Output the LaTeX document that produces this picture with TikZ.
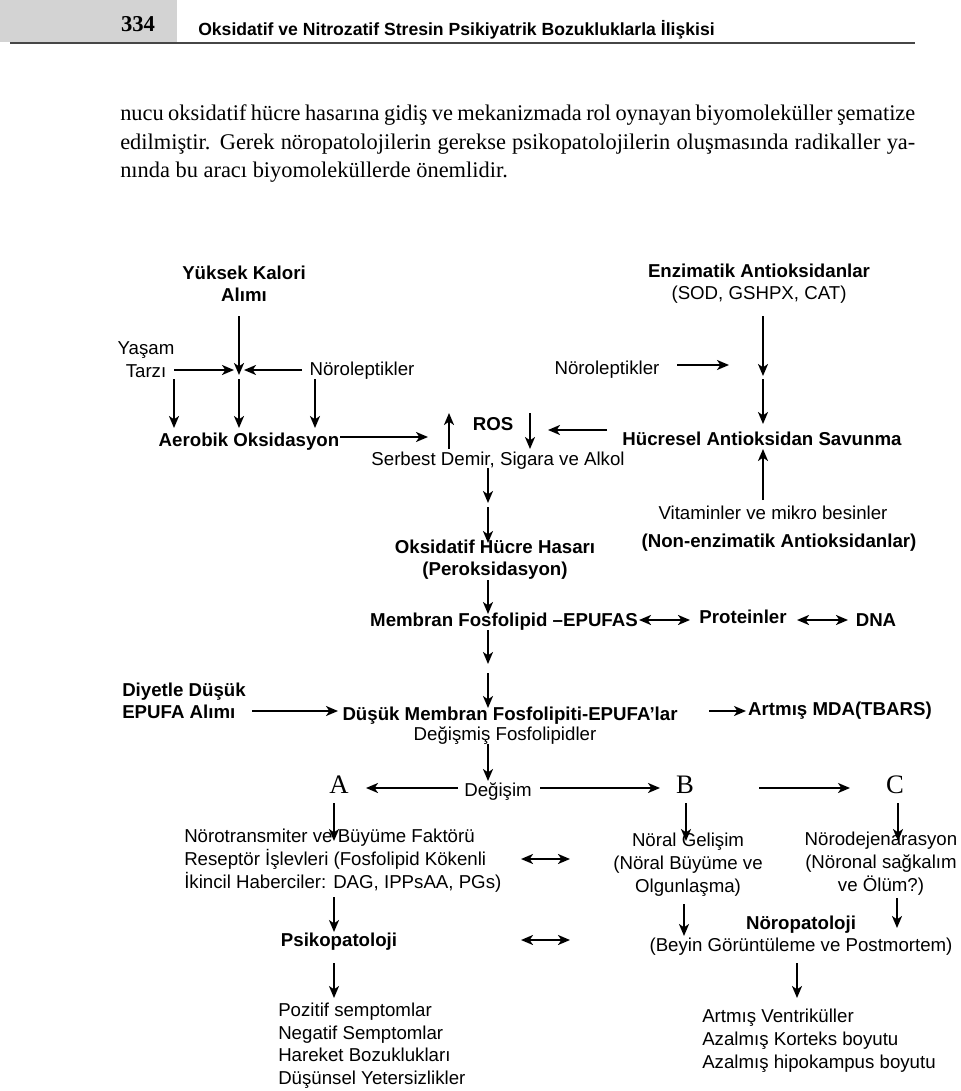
\documentclass[tikz,border=0pt]{standalone}
\usepackage{fontspec}
\setmainfont{Liberation Sans}
\newfontfamily\timesfont{Liberation Serif}
\usetikzlibrary{arrows.meta}
\definecolor{headgray}{RGB}{211,211,211}
\definecolor{headline}{RGB}{70,70,70}
\begin{document}
\begin{tikzpicture}[x=0.75pt,y=-0.75pt,
  >={Stealth[length=9pt,width=7.5pt,inset=2.5pt]},
  arr/.style={->,line width=1.5pt},
  darr/.style={<->,line width=2pt},
  lbl/.style={inner sep=0pt,font=\fontsize{14}{17}\selectfont,execute at begin node=\strut,execute at end node=\strut},
  blbl/.style={lbl,font=\fontsize{14}{17}\selectfont\bfseries},
  abc/.style={inner sep=0pt,font=\timesfont\fontsize{20}{24}\selectfont},
  body/.style={anchor=base west,inner sep=0pt,font=\timesfont\fontsize{16.8}{20}\selectfont}
]
\useasboundingbox (0,0) rectangle (960,1091);
% ---------- header ----------
\fill[headgray] (0,0) rectangle (177,42);
\draw[line width=1.5pt,headline] (10,43) -- (915,43);
\node[anchor=base,inner sep=0pt,font=\timesfont\bfseries\fontsize{17}{20}\selectfont] (pg) at (138,32) {334};
\node[anchor=base west,inner sep=0pt,font=\bfseries\fontsize{13.2}{16}\selectfont] (ttl) at (198,36) {Oksidatif ve Nitrozatif Stresin Psikiyatrik Bozukluklarla İlişkisi};
% ---------- body text ----------
\node[body] (p1) at (120,121) {\makebox[596.25pt][s]{nucu oksidatif hücre hasarına gidiş ve mekanizmada rol oynayan biyomoleküller şematize}};
\node[body] (p2) at (120,150) {\makebox[596.25pt][s]{edilmiştir. Gerek nöropatolojilerin gerekse psikopatolojilerin oluşmasında radikaller ya-}};
\node[body] (p3) at (120,178) {nında bu aracı biyomoleküllerde önemlidir.};
% ---------- diagram nodes ----------
\node[blbl,align=center] (kal) at (244,287) {Yüksek Kalori\\Alımı};
\node[lbl,align=center] (enz) at (759,285) {\textbf{Enzimatik Antioksidanlar}\\(SOD, GSHPX, CAT)};
\node[lbl,align=center] (yas) at (146,363) {Yaşam\\Tarzı};
\node[lbl] (nl1) at (362,371) {Nöroleptikler};
\node[lbl] (nl2) at (607,370) {Nöroleptikler};
\node[blbl] (aer) at (249,442) {Aerobik Oksidasyon};
\node[blbl] (ros) at (493,426) {ROS};
\node[lbl] (ser) at (498,461) {Serbest Demir, Sigara ve Alkol};
\node[blbl] (huc) at (762,441) {Hücresel Antioksidan Savunma};
\node[lbl] (vit) at (773,515) {Vitaminler ve mikro besinler};
\node[blbl] (non) at (779,543) {(Non-enzimatik Antioksidanlar)};
\node[blbl,align=center] (oks) at (495,561) {Oksidatif Hücre Hasarı\\(Peroksidasyon)};
\node[blbl] (mem) at (504,622) {Membran Fosfolipid –EPUFAS};
\node[blbl] (pro) at (743,619) {Proteinler};
\node[blbl] (dna) at (876,622) {DNA};
\node[blbl,align=left,anchor=west] (diy) at (122,704) {Diyetle Düşük\\EPUFA Alımı};
\node[blbl] (dus) at (510,716) {Düşük Membran Fosfolipiti-EPUFA’lar};
\node[lbl] (deg) at (505,736) {Değişmiş Fosfolipidler};
\node[blbl] (art) at (840,711) {Artmış MDA(TBARS)};
\node[abc] (A) at (339,785) {A};
\node[abc] (B) at (685,785) {B};
\node[abc] (C) at (895,785) {C};
\node[lbl] (degi) at (498,792) {Değişim};
\node[lbl,align=left,anchor=west] (nt) at (184,862) {Nörotransmiter ve Büyüme Faktörü\\Reseptör İşlevleri (Fosfolipid Kökenli\\İkincil Haberciler: DAG, IPPsAA, PGs)};
\node[lbl,align=center] (ng) at (688,866) {Nöral Gelişim\\(Nöral Büyüme ve\\Olgunlaşma)};
\node[lbl,align=center] (nd) at (881,865) {Nörodejenarasyon\\(Nöronal sağkalım\\ve Ölüm?)};
\node[blbl] (psi) at (339,942) {Psikopatoloji};
\node[lbl,align=center] (nop) at (801,937) {\textbf{Nöropatoloji}\\(Beyin Görüntüleme ve Postmortem)};
\node[lbl,align=left,anchor=west] (poz) at (278,1047) {Pozitif semptomlar\\Negatif Semptomlar\\Hareket Bozuklukları\\Düşünsel Yetersizlikler};
\node[lbl,align=left,anchor=west] (avm) at (702,1042) {Artmış Ventriküller\\Azalmış Korteks boyutu\\Azalmış hipokampus boyutu};
% ---------- connector end points ----------
\coordinate (k1) at (239,316); \coordinate (j) at (239,375);
\coordinate (y1) at (174,370); \coordinate (y2) at (234,370);
\coordinate (n1) at (302,370); \coordinate (n2) at (244,370);
\coordinate (d1a) at (174,379); \coordinate (d1b) at (174,428);
\coordinate (d2a) at (239,379); \coordinate (d2b) at (239,428);
\coordinate (d3a) at (315,379); \coordinate (d3b) at (315,428);
\coordinate (ae1) at (340,437); \coordinate (ae2) at (428,437);
\coordinate (su1) at (449,449); \coordinate (su2) at (449,413);
\coordinate (rd1) at (530,413); \coordinate (rd2) at (530,449);
\coordinate (h1) at (607,430); \coordinate (h2) at (548,430);
\coordinate (r1) at (677,365); \coordinate (r2) at (729,365);
\coordinate (e1) at (763,316); \coordinate (e2) at (763,376);
\coordinate (e3) at (763,379); \coordinate (e4) at (763,424);
\coordinate (v1) at (763,500); \coordinate (v2) at (763,449);
\coordinate (m1) at (488,468); \coordinate (m2) at (488,503);
\coordinate (m3) at (488,507); \coordinate (m4) at (488,543);
\coordinate (m5) at (488,580); \coordinate (m6) at (488,614);
\coordinate (m7) at (488,630); \coordinate (m8) at (488,664);
\coordinate (m9) at (488,673); \coordinate (m10) at (488,708);
\coordinate (m11) at (488,744); \coordinate (m12) at (488,781);
\coordinate (pa) at (639,620); \coordinate (pb) at (690,620);
\coordinate (pc) at (797,620); \coordinate (pd) at (848,620);
\coordinate (f1) at (252,711); \coordinate (f2) at (338,711);
\coordinate (t1) at (709,711); \coordinate (t2) at (746,711);
\coordinate (ga1) at (458,788); \coordinate (ga2) at (366,788);
\coordinate (gb1) at (540,788); \coordinate (gb2) at (660,788);
\coordinate (bc1) at (759,788); \coordinate (bc2) at (850,788);
\coordinate (aa1) at (334,803); \coordinate (aa2) at (334,841);
\coordinate (bb1) at (686,803); \coordinate (bb2) at (686,841);
\coordinate (cc1) at (898,803); \coordinate (cc2) at (898,841);
\coordinate (x1a) at (521,859); \coordinate (x1b) at (570,859);
\coordinate (nt1) at (334,897); \coordinate (nt2) at (334,932);
\coordinate (ng1) at (684,904); \coordinate (ng2) at (684,936);
\coordinate (nd1) at (897,898); \coordinate (nd2) at (897,928);
\coordinate (x2a) at (521,940); \coordinate (x2b) at (570,940);
\coordinate (ps1) at (334,963); \coordinate (ps2) at (334,998);
\coordinate (np1) at (797,963); \coordinate (np2) at (797,998);
% ---------- connectors ----------
\draw[arr] (k1) -- (j);
\draw[arr] (y1) -- (y2);
\draw[arr] (n1) -- (n2);
\draw[arr] (d1a) -- (d1b);
\draw[arr] (d2a) -- (d2b);
\draw[arr] (d3a) -- (d3b);
\draw[arr] (ae1) -- (ae2);
\draw[arr] (su1) -- (su2);
\draw[arr] (rd1) -- (rd2);
\draw[arr] (h1) -- (h2);
\draw[arr] (r1) -- (r2);
\draw[arr] (e1) -- (e2);
\draw[arr] (e3) -- (e4);
\draw[arr] (v1) -- (v2);
\draw[arr] (m1) -- (m2);
\draw[arr] (m3) -- (m4);
\draw[arr] (m5) -- (m6);
\draw[arr] (m7) -- (m8);
\draw[arr] (m9) -- (m10);
\draw[arr] (m11) -- (m12);
\draw[darr] (pa) -- (pb);
\draw[darr] (pc) -- (pd);
\draw[arr] (f1) -- (f2);
\draw[arr] (t1) -- (t2);
\draw[arr] (ga1) -- (ga2);
\draw[arr] (gb1) -- (gb2);
\draw[arr] (bc1) -- (bc2);
\draw[arr] (aa1) -- (aa2);
\draw[arr] (bb1) -- (bb2);
\draw[arr] (cc1) -- (cc2);
\draw[darr] (x1a) -- (x1b);
\draw[arr] (nt1) -- (nt2);
\draw[arr] (ng1) -- (ng2);
\draw[arr] (nd1) -- (nd2);
\draw[darr] (x2a) -- (x2b);
\draw[arr] (ps1) -- (ps2);
\draw[arr] (np1) -- (np2);
\end{tikzpicture}
\end{document}
